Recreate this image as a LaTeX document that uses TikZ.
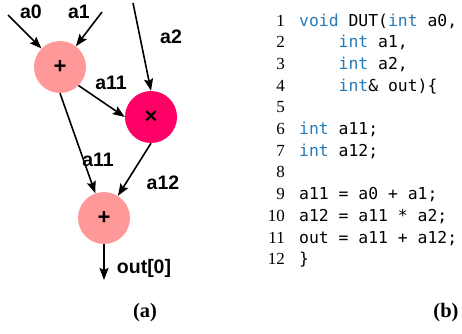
\documentclass[tikz,border=0pt]{standalone}
\usepackage{fontspec}
\usepackage{tikz}
\usetikzlibrary{arrows.meta}
\newfontfamily\lblfont{Liberation Sans}
\newfontfamily\codefont{DejaVu Sans Mono}
\newfontfamily\numfont{Liberation Serif}
\definecolor{addcol}{RGB}{255,153,153}
\definecolor{mulcol}{RGB}{255,0,102}
\definecolor{kwcol}{RGB}{38,122,184}
\newcommand{\kw}[1]{\textcolor{kwcol}{#1}}
\tikzset{
  op/.style={circle, minimum size=52pt, inner sep=0pt, font=\lblfont\bfseries\fontsize{22}{24}\selectfont},
  wire/.style={-{Stealth[length=12pt,width=9pt,inset=2pt]}, line width=1.6pt},
  lbl/.style={font=\lblfont\bfseries\fontsize{19.5}{22}\selectfont},
  code/.style={anchor=base west, inner sep=0pt, font=\codefont\fontsize{16.4}{20}\selectfont},
  lnum/.style={anchor=base east, inner sep=0pt, font=\numfont\fontsize{17}{20}\selectfont},
  subcap/.style={font=\numfont\bfseries\fontsize{20.5}{24}\selectfont}
}
\begin{document}
\begin{tikzpicture}[x=1pt, y=-1pt]
    \useasboundingbox (0,0) rectangle (462,333);
    % dataflow graph
    \node[op, fill=addcol] (add1) at (60,67) {+};
    \node[op, fill=mulcol] (mul) at (151,117) {×};
    \node[op, fill=addcol] (add2) at (104,218) {+};
    \coordinate (a0in) at (8,15);
    \coordinate (a1in) at (102,12);
    \coordinate (a2in) at (133,3);
    \coordinate (outend) at (104,280);

    \draw [wire] (a0in) -- (add1);
    \draw [wire] (a1in) -- (add1);
    \draw [wire] (a2in) -- (mul.north);
    \draw [wire] (add1.-45) -- (mul.west);
    \draw [wire] (add1.south) -- (add2);
    \draw [wire] (mul.south) -- (add2);
    \draw [wire] (add2.south) -- (outend);

    \node[lbl] (la0) at (31,12) {a0};
    \node[lbl] (la1) at (79,12) {a1};
    \node[lbl] (la2) at (171,37) {a2};
    \node[lbl] (la11m) at (111,83) {a11};
    \node[lbl] (la11a) at (98,160) {a11};
    \node[lbl] (la12) at (163,183) {a12};
    \node[lbl] (lout) at (144,268) {out[0]};

    % source code
    \node[lnum] (n1) at (285,26) {1};
    \node[lnum] (n2) at (285,47.7) {2};
    \node[lnum] (n3) at (285,69.4) {3};
    \node[lnum] (n4) at (285,91.1) {4};
    \node[lnum] (n5) at (285,112.8) {5};
    \node[lnum] (n6) at (285,134.5) {6};
    \node[lnum] (n7) at (285,156.2) {7};
    \node[lnum] (n8) at (285,177.9) {8};
    \node[lnum] (n9) at (285,199.6) {9};
    \node[lnum] (n10) at (285,221.3) {10};
    \node[lnum] (n11) at (285,243) {11};
    \node[lnum] (n12) at (285,264.7) {12};

    \node[code] (l1) at (299,26) {\kw{void} DUT(\kw{int} a0,};
    \node[code] (l2) at (299,47.7) {\phantom{xxxx}\kw{int} a1,};
    \node[code] (l3) at (299,69.4) {\phantom{xxxx}\kw{int} a2,};
    \node[code] (l4) at (299,91.1) {\phantom{xxxx}\kw{int}\& out)\{};
    \node[code] (l6) at (299,134.5) {\kw{int} a11;};
    \node[code] (l7) at (299,156.2) {\kw{int} a12;};
    \node[code] (l9) at (299,199.6) {a11 = a0 + a1;};
    \node[code] (l10) at (299,221.3) {a12 = a11 * a2;};
    \node[code] (l11) at (299,243) {out = a11 + a12;};
    \node[code] (l12) at (299,264.7) {\}};

    % captions
    \node[subcap] (capa) at (145,313) {(a)};
    \node[subcap] (capb) at (446,313) {(b)};
\end{tikzpicture}
\end{document}
